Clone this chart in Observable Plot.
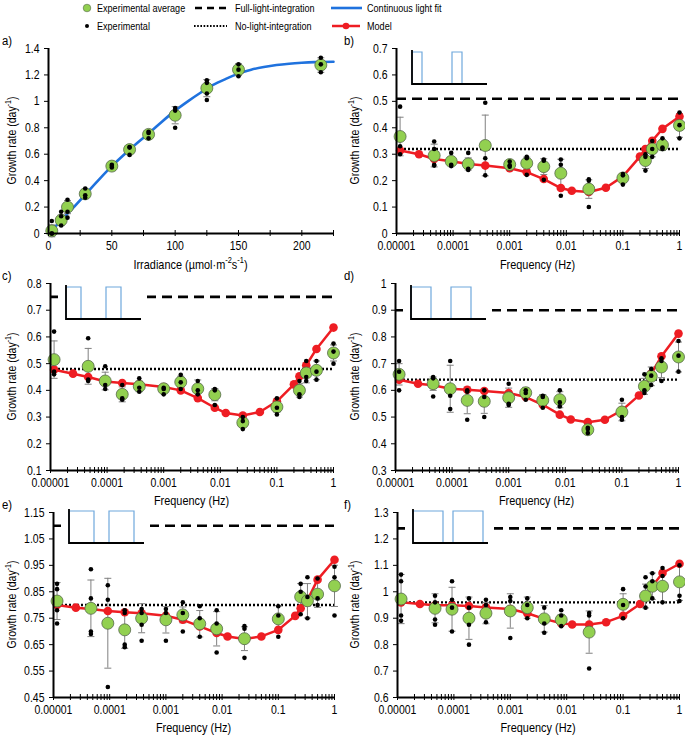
<!DOCTYPE html>
<html><head><meta charset="utf-8">
<script src="https://cdn.jsdelivr.net/npm/d3@7"></script>
<script src="https://cdn.jsdelivr.net/npm/@observablehq/plot@0.6"></script>
<style>
body{margin:0;background:#fff;}
#wrap{position:relative;width:685px;height:735px;overflow:hidden;background:#fff;}
</style></head><body><div id="wrap"></div>
<script>
const FONT = `"Liberation Sans",Arial,sans-serif`;
const SQ = 0.84; // horizontal condensing of text (narrow face look)

// ---------- data ----------
// panel a
const irradiance = [2.6, 10, 15, 29, 50, 64, 79, 100, 125, 150, 215];
const aAvg = [0.02, 0.10, 0.20, 0.30, 0.51, 0.635, 0.75, 0.895, 1.10, 1.24, 1.275];
const aErr = [0.045, 0.04, 0.05, 0.035, 0.01, 0.03, 0.025, 0.065, 0.065, 0.045, 0.055];
const aRep = [[0.095,0.0,0.0],[0.165,0.13,0.06],[0.255,0.165,0.12],[0.34,0.29,0.27],[0.52,0.51,0.50],[0.655,0.65,0.595],[0.77,0.76,0.72],[0.95,0.93,0.80],[1.16,1.14,1.06,1.01],[1.28,1.24,1.19],[1.33,1.28,1.22]];
const fitIrr = [0,5,10,15,20,30,40,50,60,70,80,90,100,110,120,130,140,150,160,170,180,190,200,210,225];
const fitRate = [0,0.048,0.1,0.15,0.2,0.305,0.41,0.51,0.6,0.685,0.765,0.85,0.93,1.0,1.065,1.125,1.17,1.21,1.24,1.26,1.275,1.285,1.292,1.297,1.30];
const aYTicks = [0,0.2,0.4,0.6,0.8,1,1.2,1.4];
const aXLabels = [0,50,100,150,200];
const aXTicks = [0,25,50,75,100,125,150,175,200,225];

// frequencies
const freqExp = [1.157e-5, 4.63e-5, 9.26e-5, 1.85e-4, 3.7e-4, 1e-3, 2e-3, 4e-3, 8e-3, 2.5e-2, 0.1, 0.25, 0.33, 0.5, 1];
const freqModel = [1.157e-5, 2.5e-5, 4.63e-5, 9.26e-5, 1.85e-4, 3.7e-4, 1e-3, 2e-3, 4e-3, 8e-3, 1.25e-2, 2.5e-2, 5e-2, 0.1, 0.2, 0.25, 0.33, 0.5, 1];
const freqLabels = [1e-5, 1e-4, 1e-3, 1e-2, 0.1, 1];

// panel b (duty 25%)
const bAvg = [0.367,0.295,0.273,0.263,0.333,0.261,0.266,0.253,0.228,0.168,0.21,0.276,0.320,0.335,0.409];
const bErr = [0.073,0.043,0.015,0.023,0.115,0.01,0.023,0.03,0.053,0.035,0.015,0.03,0.03,0.02,0.045];
const bRep = [[0.48,0.33,0.30],[0.348,0.32,0.26,0.257],[0.305,0.26,0.255],[0.305,0.245,0.24],[0.495,0.285,0.22],[0.272,0.258,0.253],[0.29,0.285,0.222],[0.28,0.275,0.203],[0.28,0.26,0.143],[0.20,0.205,0.10],[0.225,0.22,0.185],[0.30,0.29,0.238],[0.35,0.32,0.29],[0.36,0.325,0.32],[0.458,0.41,0.36]];
const bModel = [0.314,0.300,0.282,0.273,0.263,0.257,0.247,0.232,0.206,0.172,0.162,0.157,0.173,0.216,0.291,0.320,0.351,0.396,0.443];
const bYTicks = [0,0.1,0.2,0.3,0.4,0.5,0.6,0.7];

// panel c
const cAvg = [0.515,0.49,0.435,0.385,0.415,0.406,0.431,0.406,0.384,0.279,0.338,0.40,0.465,0.475,0.54];
const cErr = [0.07,0.067,0.033,0.028,0.02,0.01,0.022,0.033,0.023,0.012,0.02,0.025,0.037,0.035,0.03];
const cRep = [[0.62,0.47,0.46],[0.595,0.44,0.435],[0.49,0.42,0.405],[0.42,0.37,0.365],[0.445,0.41,0.395],[0.41,0.405,0.385],[0.458,0.43,0.405],[0.435,0.40,0.385],[0.405,0.40,0.345],[0.30,0.285,0.255],[0.37,0.335,0.31],[0.435,0.385,0.375],[0.51,0.45,0.435],[0.51,0.47,0.44],[0.575,0.545,0.50]];
const cModel = [0.4775,0.4625,0.45,0.433,0.4275,0.4225,0.4125,0.40,0.371,0.335,0.315,0.306,0.319,0.359,0.4225,0.4525,0.494,0.555,0.635];
const cYTicks = [0.1,0.2,0.3,0.4,0.5,0.6,0.7,0.8];

// panel d
const dAvg = [0.66,0.625,0.606,0.5625,0.559,0.5725,0.591,0.5625,0.565,0.4525,0.519,0.615,0.6525,0.6875,0.725];
const dErr = [0.04,0.025,0.088,0.05,0.045,0.036,0.02,0.022,0.03,0.01,0.033,0.03,0.035,0.04,0.056];
const dRep = [[0.71,0.67,0.60],[0.65,0.645,0.577],[0.71,0.58,0.53],[0.60,0.595,0.49],[0.60,0.575,0.50],[0.625,0.55,0.545],[0.60,0.59,0.565],[0.58,0.575,0.535],[0.60,0.555,0.54],[0.46,0.455,0.44],[0.565,0.50,0.49],[0.66,0.60,0.59],[0.68,0.655,0.62],[0.72,0.71,0.635],[0.785,0.73,0.67]];
const dModel = [0.64,0.625,0.619,0.606,0.6025,0.5975,0.59,0.575,0.546,0.509,0.491,0.481,0.49,0.525,0.581,0.6125,0.6625,0.7275,0.8125];
const dYTicks = [0.3,0.4,0.5,0.6,0.7,0.8,0.9,1];

// panel e
const eAvg = [0.815,0.7875,0.731,0.706,0.75,0.744,0.7625,0.729,0.71,0.6725,0.7475,0.831,0.816,0.841,0.8725];
const eErr = [0.07,0.107,0.17,0.07,0.055,0.05,0.03,0.05,0.065,0.045,0.05,0.05,0.065,0.05,0.078];
const eRep = [[0.88,0.86,0.78,0.73],[0.935,0.825,0.70,0.69],[0.875,0.82,0.49],[0.78,0.77,0.65,0.64],[0.785,0.77,0.725,0.665],[0.785,0.77,0.665],[0.81,0.77,0.70],[0.795,0.75,0.68],[0.78,0.73,0.62],[0.72,0.71,0.60],[0.795,0.76,0.68],[0.88,0.85,0.765],[0.905,0.83,0.75],[0.90,0.825,0.80],[0.945,0.905,0.76]];
const eModel = [0.80,0.79,0.785,0.7775,0.7725,0.769,0.759,0.744,0.719,0.694,0.681,0.671,0.681,0.706,0.759,0.7875,0.819,0.896,0.971];
const eYTicks = [0.45,0.55,0.65,0.75,0.85,0.95,1.05,1.15];

// panel f
const fAvg = [0.9725,0.9375,0.934,0.90,0.919,0.9275,0.94,0.8975,0.894,0.8475,0.9525,0.984,1.021,1.021,1.0375];
const fErr = [0.093,0.055,0.083,0.08,0.04,0.065,0.04,0.05,0.02,0.08,0.04,0.045,0.05,0.06,0.07];
const fRep = [[1.065,1.04,0.91,0.89],[0.985,0.96,0.895,0.875],[1.04,0.97,0.94,0.85],[0.975,0.94,0.875,0.80],[0.97,0.95,0.885],[0.98,0.965,0.825],[0.975,0.95,0.90],[0.94,0.88,0.845],[0.93,0.91,0.87],[0.92,0.91,0.71],[1.01,0.95,0.90],[1.055,1.02,0.94],[1.07,1.04,0.975],[1.09,1.06,0.96],[1.10,0.985,0.965]];
const fModel = [0.96,0.954,0.949,0.949,0.946,0.941,0.935,0.919,0.8975,0.881,0.876,0.876,0.885,0.909,0.954,0.981,1.021,1.071,1.106];
const fYTicks = [0.6,0.7,0.8,0.9,1,1.1,1.2,1.3];

// reference lines (b..f)
const fullLight = [0.51, 0.75, 0.90, 1.10, 1.24];
const noLight = [0.32, 0.48, 0.64, 0.80, 0.96];
const dutyCycle = [0.25, 0.375, 0.5, 0.625, 0.75];
const panelLetters = ["a)", "b)", "c)", "d)", "e)", "f)"];

// ---------- helpers ----------
const GREEN = "#92d050", RED = "#ee1d23", BLUE = "#1f72de", GREY = "#808080";
const cap = {draw(ctx, size){ const r = Math.sqrt(size/Math.PI); ctx.moveTo(-r,0); ctx.lineTo(r,0); }};
const avgRows = (xs, avg, err) => xs.map((x,i)=>({x, y:avg[i], lo:avg[i]-err[i], hi:avg[i]+err[i]}));
const repRows = (xs, rep) => rep.flatMap((vals,i)=>vals.map(v=>({x:xs[i], y:v})));
const lineRows = (xs, ys) => xs.map((x,i)=>({x, y:ys[i]}));
const logTicks = d3.scaleLog().domain([1e-5,1]).ticks();

const wrap = document.getElementById("wrap");

function condense(el){
  const x = el.getAttribute("x");
  if (x != null && x !== "" && !isNaN(+x)) el.setAttribute("x", (+x)/SQ);
  const t = el.getAttribute("transform") || "";
  el.setAttribute("transform", `${t} scale(${SQ},1)`);
}

function panel(cfg){
  const ph = cfg.height - cfg.mt - cfg.mb;
  const yDom = [cfg.yTicks[0], cfg.yTicks[cfg.yTicks.length-1]];
  const marks = [];
  if (cfg.full != null) marks.push(Plot.ruleY([cfg.full], {stroke:"black", strokeWidth:2.6, strokeDasharray:"10,6"}));
  if (cfg.none != null) marks.push(Plot.ruleY([cfg.none], {stroke:"black", strokeWidth:2.4, strokeDasharray:"2,2"}));
  if (cfg.fit) marks.push(Plot.line(cfg.fit, {x:"x", y:"y", stroke:BLUE, strokeWidth:2.6, curve:"monotone-x"}));
  marks.push(Plot.ruleX(cfg.avg, {x:"x", y1:"lo", y2:"hi", stroke:GREY, strokeWidth:1}));
  marks.push(Plot.dot(cfg.avg, {x:"x", y:"lo", symbol:cap, r:3.5, fill:"none", stroke:GREY, strokeWidth:1}));
  marks.push(Plot.dot(cfg.avg, {x:"x", y:"hi", symbol:cap, r:3.5, fill:"none", stroke:GREY, strokeWidth:1}));
  if (cfg.model){
    marks.push(Plot.line(cfg.model, {x:"x", y:"y", stroke:RED, strokeWidth:2.5}));
    marks.push(Plot.dot(cfg.model, {x:"x", y:"y", r:4.3, fill:RED}));
  }
  marks.push(Plot.dot(cfg.avg, {x:"x", y:"y", r:6, fill:GREEN, stroke:"#56684a", strokeWidth:0.8}));
  marks.push(Plot.dot(cfg.reps, {x:"x", y:"y", r:2.3, fill:"black"}));
  marks.push(Plot.axisY({ticks:cfg.yTicks, tickFormat:d=>String(d), tickSize:4, tickPadding:5, label:null}));
  marks.push(Plot.axisX({ticks:cfg.xLabels, tickFormat:cfg.xFormat, tickSize:0, tickPadding:cfg.xPad, label:null}));
  marks.push(Plot.tickX(cfg.xTicks, {x:d=>d, insetTop:ph-3, insetBottom:-3, stroke:"black", strokeWidth:1}));
  marks.push(Plot.ruleX([cfg.xDomain[0]], {stroke:"black", strokeWidth:2}));
  marks.push(Plot.ruleY([yDom[0]], {stroke:"black", strokeWidth:2}));
  const svg = Plot.plot({
    width:cfg.width, height:cfg.height,
    marginLeft:cfg.ml, marginRight:cfg.mr, marginTop:cfg.mt, marginBottom:cfg.mb,
    x:{type:cfg.xType, domain:cfg.xDomain},
    y:{domain:yDom},
    style:{fontFamily:FONT, fontSize:"12.5px", color:"black", background:"transparent", overflow:"visible",
           position:"absolute", left:cfg.left+"px", top:cfg.top+"px", maxWidth:"none"},
    marks
  });
  svg.querySelectorAll("text").forEach(condense);
  wrap.appendChild(svg);
  return {px0: cfg.left+cfg.ml, px1: cfg.left+cfg.width-cfg.mr, py0: cfg.top+cfg.mt, py1: cfg.top+cfg.height-cfg.mb};
}

const freqFmt = d => d3.format("~f")(d);
const rows = [{top:30,height:250,mb:47,pad:8},{top:265,height:235,mb:30,pad:8},{top:494,height:241,mb:38,pad:8}];
const cols = [{left:0,width:342},{left:342,width:343}];

const specs = [
  {r:0,c:0, ml:48, mr:9, xType:"linear", xDomain:[0,225], xLabels:aXLabels, xFormat:d=>String(d), xTicks:aXTicks, yTicks:aYTicks,
   avg:avgRows(irradiance,aAvg,aErr), reps:repRows(irradiance,aRep), fit:lineRows(fitIrr,fitRate)},
  {r:0,c:1, ml:54, mr:6, yTicks:bYTicks, avg:avgRows(freqExp,bAvg,bErr), reps:repRows(freqExp,bRep), model:lineRows(freqModel,bModel)},
  {r:1,c:0, ml:50, mr:9, yTicks:cYTicks, avg:avgRows(freqExp,cAvg,cErr), reps:repRows(freqExp,cRep), model:lineRows(freqModel,cModel)},
  {r:1,c:1, ml:53, mr:7, yTicks:dYTicks, avg:avgRows(freqExp,dAvg,dErr), reps:repRows(freqExp,dRep), model:lineRows(freqModel,dModel)},
  {r:2,c:0, ml:53, mr:8, yTicks:eYTicks, avg:avgRows(freqExp,eAvg,eErr), reps:repRows(freqExp,eRep), model:lineRows(freqModel,eModel)},
  {r:2,c:1, ml:55, mr:6, yTicks:fYTicks, avg:avgRows(freqExp,fAvg,fErr), reps:repRows(freqExp,fRep), model:lineRows(freqModel,fModel)}
];

const boxes = specs.map((s,i)=>{
  const R = rows[s.r], C = cols[s.c];
  const cfg = Object.assign({
    left:C.left, width:C.width, top:R.top, height:R.height, mt:18, mb:R.mb, xPad:R.pad,
    xType:"log", xDomain:[1e-5,1], xLabels:freqLabels, xFormat:freqFmt, xTicks:logTicks
  }, s);
  if (i>0){ cfg.full = fullLight[i-1]; cfg.none = noLight[i-1]; }
  return panel(cfg);
});

// ---------- overlay: titles, letters, insets, legend ----------
const ov = d3.select(wrap).append("svg")
  .attr("width",685).attr("height",735)
  .style("position","absolute").style("left","0px").style("top","0px")
  .style("font-family",FONT).style("pointer-events","none");

function supText(g, parts, size){
  let up = false;
  parts.forEach((p,k)=>{
    const isSup = k%2===1;
    const t = g.append("tspan").text(p);
    if (isSup){ t.attr("font-size",size*0.68).attr("dy",-size*0.38); up=true; }
    else if (up){ t.attr("dy",size*0.38); up=false; }
  });
}
function label(parent, x, y, size, rot){
  return parent.append("text")
    .attr("transform",`translate(${x},${y})${rot?` rotate(${rot})`:""} scale(${SQ},1)`)
    .attr("dominant-baseline","central").attr("font-size",size);
}

const titleY = [265, 501, 728];
boxes.forEach((b,i)=>{
  const s = specs[i];
  const yc = (b.py0+b.py1)/2;
  const yx = s.c===0 ? 12 : 355;
  const yt = label(ov, yx, yc, 12.5, -90).attr("text-anchor","middle");
  supText(yt, ["Growth rate (day","-1",")"], 12.5);
  const xt = label(ov, (b.px0+b.px1)/2, titleY[s.r], 13, 0).attr("text-anchor","middle");
  if (i===0) supText(xt, ["Irradiance (µmol·m","-2","s","-1",")"], 13);
  else xt.text("Frequency (Hz)");
  label(ov, s.c===0 ? 2 : 344, b.py0 - 7, 13.5, 0).text(panelLetters[i]);
  if (i>0){
    const D = dutyCycle[i-1];
    const x0 = b.px0 + 16;
    const top = b.py0 + (s.r===2 ? -3 : 2);
    const bot = top + 34, per = 40, pw = D*per, wid = 75, tb = top + 2;
    ov.append("rect").attr("x",x0-8).attr("y",top-2).attr("width",89).attr("height",44).attr("fill","white");
    ov.append("path").attr("d",`M${x0},${bot}V${tb}H${x0+pw}V${bot}H${x0+per}V${tb}H${x0+per+pw}V${bot}H${x0+wid}`)
      .attr("fill","none").attr("stroke","#6fa8dc").attr("stroke-width",1.2);
    ov.append("path").attr("d",`M${x0},${top}V${bot}H${x0+wid}`)
      .attr("fill","none").attr("stroke","black").attr("stroke-width",1.8);
  }
});

// legend
const L = ov.append("g");
const r1 = 8, r2 = 26, LF = 10.8;
L.append("circle").attr("cx",87).attr("cy",r1).attr("r",3.8).attr("fill",GREEN).attr("stroke","#56684a").attr("stroke-width",0.6);
label(L, 97, r1, LF, 0).text("Experimental average");
L.append("line").attr("x1",195).attr("x2",228).attr("y1",r1).attr("y2",r1).attr("stroke","black").attr("stroke-width",2.6).attr("stroke-dasharray","7,5");
label(L, 235, r1, LF, 0).text("Full-light-integration");
L.append("line").attr("x1",331).attr("x2",362).attr("y1",r1).attr("y2",r1).attr("stroke",BLUE).attr("stroke-width",2.6);
label(L, 367, r1, LF, 0).text("Continuous light fit");
L.append("circle").attr("cx",87).attr("cy",r2).attr("r",2).attr("fill","black");
label(L, 97, r2, LF, 0).text("Experimental");
L.append("line").attr("x1",194).attr("x2",227).attr("y1",r2).attr("y2",r2).attr("stroke","black").attr("stroke-width",2).attr("stroke-dasharray","1.6,1.6");
label(L, 235, r2, LF, 0).text("No-light-integration");
L.append("line").attr("x1",332).attr("x2",360).attr("y1",r2).attr("y2",r2).attr("stroke",RED).attr("stroke-width",2.5);
L.append("circle").attr("cx",346).attr("cy",r2).attr("r",3.3).attr("fill",RED);
label(L, 367, r2, LF, 0).text("Model");
</script></body></html>
